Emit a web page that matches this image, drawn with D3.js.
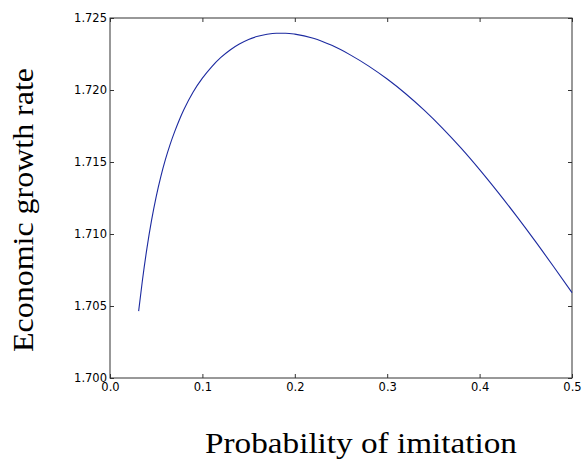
<!DOCTYPE html>
<html>
<head>
<meta charset="utf-8">
<script src="https://cdn.jsdelivr.net/npm/d3@7"></script>
<style>
  body { margin: 0; background: #fff; }
  svg { display: block; }
</style>
</head>
<body>
<div id="viz"></div>
<script>
// values
let probs = [0.031, 0.035, 0.040, 0.045, 0.050, 0.055, 0.060, 0.065, 0.070, 0.075,
  0.080, 0.090, 0.100, 0.110, 0.120, 0.130, 0.140, 0.150, 0.160, 0.170,
  0.180, 0.190, 0.200, 0.220, 0.240, 0.260, 0.280, 0.300, 0.320, 0.340,
  0.360, 0.380, 0.400, 0.420, 0.440, 0.460, 0.480, 0.500];
let growth = [1.70464, 1.70674, 1.70902, 1.71096, 1.71260, 1.71399, 1.71518, 1.71621, 1.71711, 1.71792,
  1.71864, 1.71986, 1.72082, 1.72161, 1.72226, 1.72278, 1.72319, 1.72351, 1.72373, 1.72387,
  1.72394, 1.72394, 1.72388, 1.72360, 1.72310, 1.72244, 1.72166, 1.72076, 1.71974, 1.71860,
  1.71734, 1.71596, 1.71447, 1.71289, 1.71124, 1.70952, 1.70774, 1.70593];
let xTicks = [0.0, 0.1, 0.2, 0.3, 0.4, 0.5];
let yTicks = [1.700, 1.705, 1.710, 1.715, 1.720, 1.725];
let xTitle = 'Probability of imitation';
let yTitle = 'Economic growth rate';

let margin = { top: 18, right: 12, bottom: 85, left: 110 },
  width = 584 - margin.left - margin.right,
  height = 463 - margin.top - margin.bottom;

let svgRoot = d3.select('#viz')
  .append('svg')
  .attr('width', 584)
  .attr('height', 463);

let svg = svgRoot.append('g')
  .attr('transform', 'translate(' + margin.left + ',' + margin.top + ')');

let x = d3.scaleLinear().domain([0, 0.5]).range([0, width]);
let y = d3.scaleLinear().domain([1.700, 1.725]).range([height, 0]);

let tickFont = '"DejaVu Sans", sans-serif';

function styleAxis(g) {
  g.select('.domain').remove();
  g.selectAll('.tick line').attr('stroke', '#333').attr('stroke-width', 1);
  g.selectAll('.tick text')
    .style('font-family', tickFont)
    .style('font-size', '11.5px')
    .attr('fill', '#000');
}

svg.append('g')
  .attr('transform', 'translate(0,' + height + ')')
  .call(d3.axisBottom(x).tickValues(xTicks).tickFormat(d3.format('.1f'))
    .tickSizeInner(-4).tickSizeOuter(0).tickPadding(5))
  .call(styleAxis);

svg.append('g')
  .call(d3.axisTop(x).tickValues(xTicks).tickFormat('')
    .tickSizeInner(-4).tickSizeOuter(0))
  .call(styleAxis);

svg.append('g')
  .call(d3.axisLeft(y).tickValues(yTicks).tickFormat(d3.format('.3f'))
    .tickSizeInner(-4).tickSizeOuter(0).tickPadding(3))
  .call(styleAxis);

svg.append('g')
  .attr('transform', 'translate(' + width + ',0)')
  .call(d3.axisRight(y).tickValues(yTicks).tickFormat('')
    .tickSizeInner(-4).tickSizeOuter(0))
  .call(styleAxis);

// frame
svg.append('rect')
  .attr('x', 0)
  .attr('y', 0)
  .attr('width', width)
  .attr('height', height)
  .attr('fill', 'none')
  .attr('stroke', '#333')
  .attr('stroke-width', 1);

let data = probs.map((p, i) => ({ x: p, y: growth[i] }));

let line = d3.line()
  .x(d => x(d.x))
  .y(d => y(d.y))
  .curve(d3.curveMonotoneX);

svg.append('path')
  .datum(data)
  .attr('d', line)
  .attr('fill', 'none')
  .attr('stroke', '#1c2aa0')
  .attr('stroke-width', 1.1);

// axis titles
svgRoot.append('text')
  .text(xTitle)
  .attr('x', 205)
  .attr('y', 453)
  .attr('textLength', 312)
  .attr('lengthAdjust', 'spacingAndGlyphs')
  .style('font-family', '"Liberation Serif", serif')
  .style('font-size', '30px');

svgRoot.append('text')
  .text(yTitle)
  .attr('transform', 'translate(33,210) rotate(-90)')
  .attr('text-anchor', 'middle')
  .attr('textLength', 284)
  .attr('lengthAdjust', 'spacingAndGlyphs')
  .style('font-family', '"Liberation Serif", serif')
  .style('font-size', '30px');
</script>
</body>
</html>
